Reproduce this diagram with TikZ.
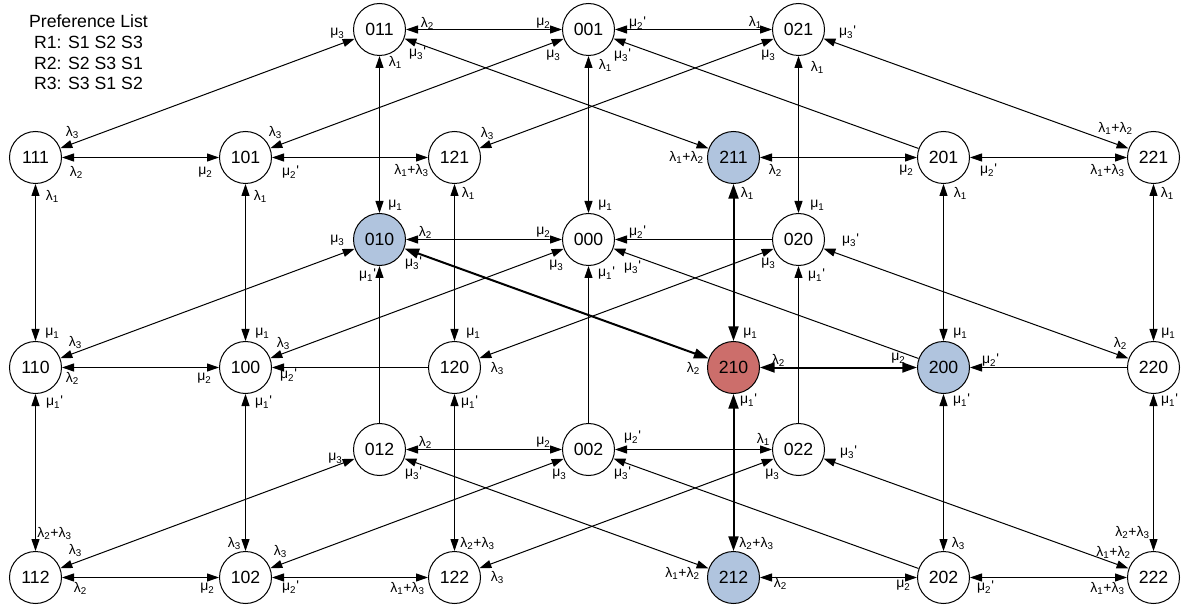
\documentclass[tikz,border=0pt]{standalone}
\usepackage{fontspec}
\setmainfont{Liberation Sans}
\usetikzlibrary{arrows.meta}
\definecolor{nodeblue}{RGB}{176,196,222}
\definecolor{nodered}{RGB}{204,110,107}
% rate symbols
\newcommand\rL[1]{λ\textsubscript{#1}}
\newcommand\rM[1]{μ\textsubscript{#1}}
\newcommand\pr{\textquotesingle}

\begin{document}
\begin{tikzpicture}[x=0.75pt,y=-0.75pt,
  st/.style={circle, draw, line width=0.75pt, minimum size=39pt, inner sep=0pt,
             font=\fontsize{13.25}{15}\selectfont},
  hl/.style={st, fill=nodeblue},
  hot/.style={st, fill=nodered},
  lbl/.style={inner sep=0pt, font=\fontsize{10.5}{11}\selectfont},
  tip/.tip={Triangle[length=9pt,width=6pt]},
  bigtip/.tip={Triangle[length=11pt,width=7.5pt]},
  tw/.style={line width=0.75pt, tip-tip},
  ow/.style={line width=0.75pt, -tip},
  tk/.style={line width=1.5pt, bigtip-bigtip}]
\useasboundingbox (0,0) rectangle (1183,606);

\begin{scope}[shift={(0.5,0.5)}]
% heading
\node[align=center, font=\fontsize{13.25}{15.5}\selectfont] (pref) at (88,52)
  {Preference List\\R1: S1 S2 S3\\R2: S2 S3 S1\\R3: S3 S1 S2};

% states: inner columns
\node[st] (n011) at (379,29) {011};
\node[st] (n001) at (588,29) {001};
\node[st] (n021) at (798,29) {021};
\node[hl] (n010) at (379,239) {010};
\node[st] (n000) at (588,239) {000};
\node[st] (n020) at (798,239) {020};
\node[st] (n012) at (379,449) {012};
\node[st] (n002) at (588,449) {002};
\node[st] (n022) at (798,449) {022};
% states: outer columns
\node[st] (n111) at (35,157) {111};
\node[st] (n101) at (245,157) {101};
\node[st] (n121) at (454,157) {121};
\node[hl] (n211) at (733,157) {211};
\node[st] (n201) at (943,157) {201};
\node[st] (n221) at (1153,157) {221};
\node[st] (n110) at (35,367) {110};
\node[st] (n100) at (245,367) {100};
\node[st] (n120) at (454,367) {120};
\node[hot] (n210) at (733,367) {210};
\node[hl] (n200) at (943,367) {200};
\node[st] (n220) at (1153,367) {220};
\node[st] (n112) at (35,577) {112};
\node[st] (n102) at (245,577) {102};
\node[st] (n122) at (454,577) {122};
\node[hl] (n212) at (733,577) {212};
\node[st] (n202) at (943,577) {202};
\node[st] (n222) at (1153,577) {222};

% horizontal transitions
\draw[tw] (n011) -- (n001);
\draw[tw] (n001) -- (n021);
\draw[tw] (n010) -- (n000);
\draw[ow] (n020) -- (n000);
\draw[tw] (n012) -- (n002);
\draw[tw] (n002) -- (n022);
\draw[tw] (n111) -- (n101);
\draw[tw] (n101) -- (n121);
\draw[tw] (n211) -- (n201);
\draw[tw] (n201) -- (n221);
\draw[tw] (n110) -- (n100);
\draw[ow] (n120) -- (n100);
\draw[tk] (n210) -- (n200);
\draw[ow] (n220) -- (n200);
\draw[tw] (n112) -- (n102);
\draw[tw] (n102) -- (n122);
\draw[tw] (n212) -- (n202);
\draw[tw] (n202) -- (n222);

% vertical transitions
\draw[tw] (n011) -- (n010);
\draw[ow] (n012) -- (n010);
\draw[tw] (n001) -- (n000);
\draw[ow] (n002) -- (n000);
\draw[tw] (n021) -- (n020);
\draw[ow] (n022) -- (n020);
\draw[tw] (n111) -- (n110);
\draw[tw] (n110) -- (n112);
\draw[tw] (n101) -- (n100);
\draw[tw] (n100) -- (n102);
\draw[tw] (n121) -- (n120);
\draw[tw] (n120) -- (n122);
\draw[tk] (n211) -- (n210);
\draw[tk] (n210) -- (n212);
\draw[tw] (n201) -- (n200);
\draw[tw] (n200) -- (n202);
\draw[tw] (n221) -- (n220);
\draw[tw] (n220) -- (n222);

% diagonal transitions
\draw[tw] (n111) -- (n011);
\draw[tw] (n101) -- (n001);
\draw[tw] (n121) -- (n021);
\draw[tw] (n211) -- (n011);
\draw[ow] (n201) -- (n001);
\draw[tw] (n221) -- (n021);
\draw[tw] (n110) -- (n010);
\draw[tw] (n100) -- (n000);
\draw[tw] (n120) -- (n020);
\draw[tk] (n210) -- (n010);
\draw[ow] (n200) -- (n000);
\draw[tw] (n220) -- (n020);
\draw[tw] (n112) -- (n012);
\draw[tw] (n102) -- (n002);
\draw[tw] (n122) -- (n022);
\draw[tw] (n212) -- (n012);
\draw[ow] (n202) -- (n002);
\draw[tw] (n222) -- (n022);

% rate labels, top band
\node[lbl] at (337,33) {\rM3};
\node[lbl] at (427,23) {\rL2};
\node[lbl] at (543,23) {\rM2};
\node[lbl] at (417,53) {\rM3\pr};
\node[lbl] at (553,55) {\rM3};
\node[lbl] at (395,62) {\rL1};
\node[lbl] at (605,65) {\rL1};
\node[lbl] at (637,23) {\rM2\pr};
\node[lbl] at (622,55) {\rM3\pr};
\node[lbl] at (755,22) {\rL1};
\node[lbl] at (768,55) {\rM3};
\node[lbl] at (847,32) {\rM3\pr};
\node[lbl] at (817,67) {\rL1};

% rate labels, second row
\node[lbl] at (72,132) {\rL3};
\node[lbl] at (76,172) {\rL2};
\node[lbl] at (205,172) {\rM2};
\node[lbl] at (275,132) {\rL3};
\node[lbl] at (290,172) {\rM2\pr};
\node[lbl] at (52,196) {\rL1};
\node[lbl] at (260,196) {\rL1};
\node[lbl] at (487,133) {\rL3};
\node[lbl] at (411,170) {\rL1+\rL3};
\node[lbl] at (468,193) {\rL1};
\node[lbl] at (686,157) {\rL1+\rL2};
\node[lbl] at (775,170) {\rL2};
\node[lbl] at (747,193) {\rL1};
\node[lbl] at (1115,128) {\rL1+\rL2};
\node[lbl] at (906,170) {\rM2};
\node[lbl] at (988,170) {\rM2\pr};
\node[lbl] at (1107,170) {\rL1+\rL3};
\node[lbl] at (960,193) {\rL1};
\node[lbl] at (1167,193) {\rL1};

% rate labels, middle band
\node[lbl] at (395,205) {\rM1};
\node[lbl] at (337,240) {\rM3};
\node[lbl] at (367,275) {\rM1\pr};
\node[lbl] at (425,232) {\rL2};
\node[lbl] at (413,263) {\rM3\pr};
\node[lbl] at (543,232) {\rM2};
\node[lbl] at (605,205) {\rM1};
\node[lbl] at (556,265) {\rM3};
\node[lbl] at (606,273) {\rM1\pr};
\node[lbl] at (637,232) {\rM2\pr};
\node[lbl] at (632,267) {\rM3\pr};
\node[lbl] at (768,263) {\rM3};
\node[lbl] at (817,205) {\rM1};
\node[lbl] at (850,240) {\rM3\pr};
\node[lbl] at (816,275) {\rM1\pr};

% rate labels, fourth row
\node[lbl] at (52,333) {\rM1};
\node[lbl] at (75,342) {\rL3};
\node[lbl] at (72,378) {\rL2};
\node[lbl] at (204,378) {\rM2};
\node[lbl] at (262,333) {\rM1};
\node[lbl] at (283,343) {\rL3};
\node[lbl] at (288,375) {\rM2\pr};
\node[lbl] at (54,402) {\rM1\pr};
\node[lbl] at (263,402) {\rM1\pr};
\node[lbl] at (473,333) {\rM1};
\node[lbl] at (497,368) {\rL3};
\node[lbl] at (693,368) {\rL2};
\node[lbl] at (750,333) {\rM1};
\node[lbl] at (778,360) {\rL2};
\node[lbl] at (469,402) {\rM1\pr};
\node[lbl] at (748,400) {\rM1\pr};
\node[lbl] at (960,333) {\rM1};
\node[lbl] at (898,358) {\rM2};
\node[lbl] at (990,360) {\rM2\pr};
\node[lbl] at (1120,343) {\rL2};
\node[lbl] at (1168,333) {\rM1};
\node[lbl] at (961,400) {\rM1\pr};
\node[lbl] at (1169,400) {\rM1\pr};

% rate labels, lower band
\node[lbl] at (335,458) {\rM3};
\node[lbl] at (425,442) {\rL2};
\node[lbl] at (413,473) {\rM3\pr};
\node[lbl] at (543,442) {\rM2};
\node[lbl] at (559,474) {\rM3};
\node[lbl] at (632,437) {\rM2\pr};
\node[lbl] at (622,473) {\rM3\pr};
\node[lbl] at (763,439) {\rL1};
\node[lbl] at (772,474) {\rM3};
\node[lbl] at (848,452) {\rM3\pr};

% rate labels, bottom row
\node[lbl] at (54,533) {\rL2+\rL3};
\node[lbl] at (75,550) {\rL3};
\node[lbl] at (80,588) {\rL2};
\node[lbl] at (234,543) {\rL3};
\node[lbl] at (280,551) {\rL3};
\node[lbl] at (207,588) {\rM2};
\node[lbl] at (290,587) {\rM2\pr};
\node[lbl] at (477,543) {\rL2+\rL3};
\node[lbl] at (497,577) {\rL3};
\node[lbl] at (407,588) {\rL1+\rL3};
\node[lbl] at (682,573) {\rL1+\rL2};
\node[lbl] at (756,543) {\rL2+\rL3};
\node[lbl] at (780,583) {\rL2};
\node[lbl] at (958,543) {\rL3};
\node[lbl] at (903,585) {\rM2};
\node[lbl] at (985,587) {\rM2\pr};
\node[lbl] at (1132,532) {\rL2+\rL3};
\node[lbl] at (1113,552) {\rL1+\rL2};
\node[lbl] at (1107,588) {\rL1+\rL3};
\end{scope}
\end{tikzpicture}
\end{document}
